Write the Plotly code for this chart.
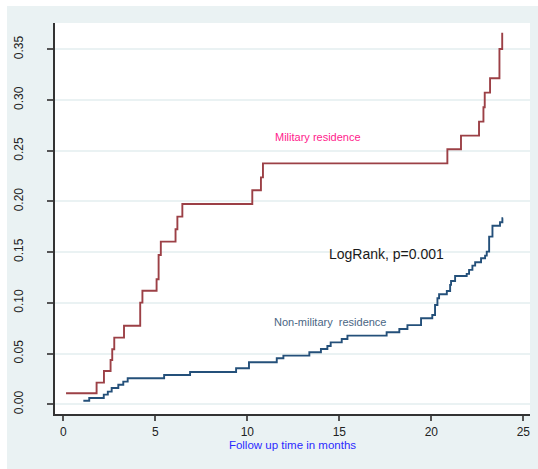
import plotly.graph_objects as go

# Military residence (cumulative incidence, step function)
mil_t = [0.15, 1.81, 2.21, 2.57, 2.66, 2.77, 3.30, 4.18, 4.30, 5.07, 5.18, 5.30,
         6.10, 6.20, 6.47, 10.27, 10.74, 10.85, 20.87, 21.61, 22.59, 22.83, 22.90,
         23.19, 23.70, 23.85]
mil_y = [0.0108, 0.0213, 0.0328, 0.0437, 0.0542, 0.0657, 0.0775, 0.1002, 0.1120,
         0.1233, 0.1472, 0.1604, 0.1726, 0.1850, 0.1975, 0.2110, 0.2238, 0.2376,
         0.2515, 0.2649, 0.2787, 0.2929, 0.3073, 0.3215, 0.3504, 0.3665]

# Non-military residence
non_t = [1.09, 1.41, 2.20, 2.42, 2.63, 2.99, 3.26, 3.50, 5.48, 6.89, 9.39, 10.09,
         11.60, 11.96, 13.37, 14.00, 14.35, 14.53, 15.13, 15.44, 17.57, 18.26, 18.70,
         19.44, 20.05, 20.20, 20.33, 20.42, 20.84, 21.02, 21.07, 21.29, 21.92, 22.05,
         22.23, 22.38, 22.70, 22.92, 23.01, 23.14, 23.32, 23.73, 23.86, 23.90]
non_y = [0.0034, 0.0062, 0.0095, 0.0125, 0.0160, 0.0193, 0.0223, 0.0256, 0.0288,
         0.0318, 0.0355, 0.0414, 0.0454, 0.0480, 0.0513, 0.0545, 0.0575, 0.0610,
         0.0644, 0.0677, 0.0710, 0.0743, 0.0780, 0.0848, 0.0881, 0.0979, 0.1045,
         0.1085, 0.1117, 0.1177, 0.1216, 0.1265, 0.1286, 0.1325, 0.1367, 0.1400,
         0.1440, 0.1466, 0.1505, 0.1653, 0.1761, 0.1795, 0.1834, 0.1834]

x_ticks = [0, 5, 10, 15, 20, 25]
y_ticks = [0.00, 0.05, 0.10, 0.15, 0.20, 0.25, 0.30, 0.35]

BG = "#eaf2f3"
FONT = "Liberation Sans, Arial, sans-serif"

fig = go.Figure()
fig.add_trace(go.Scatter(x=non_t, y=non_y, mode="lines", line_shape="hv",
                         line=dict(color="#24507a", width=1.9), name="Non-military residence"))
fig.add_trace(go.Scatter(x=mil_t, y=mil_y, mode="lines", line_shape="hv",
                         line=dict(color="#9c4046", width=1.9), name="Military residence"))

W, H = 538, 469
L, R, T, B = 55, 8, 23, 55
pw, ph = W - L - R, H - T - B

fig.add_shape(type="rect", xref="paper", yref="paper", layer="below",
              x0=(7 - L) / pw, x1=(W - L) / pw, y0=-B / ph, y1=(H - B - 6) / ph,
              fillcolor=BG, line_width=0)
fig.add_shape(type="rect", xref="paper", yref="paper", layer="below",
              x0=0, x1=1, y0=0, y1=1, fillcolor="white", line_width=0)

fig.add_annotation(x=13.84, y=0.2636, text="Military residence", showarrow=False,
                   font=dict(family=FONT, size=11, color="#ff1a8c"))
fig.add_annotation(x=17.55, y=0.148, text="LogRank, p=0.001", showarrow=False,
                   font=dict(family=FONT, size=14, color="#1a1a1a"))
fig.add_annotation(x=14.5, y=0.081, text="Non-military\u00a0 residence", showarrow=False,
                   font=dict(family=FONT, size=11, color="#4a6684"))

fig.update_layout(
    width=W, height=H,
    margin=dict(l=L, r=R, t=T, b=B, autoexpand=False),
    paper_bgcolor="white", plot_bgcolor="white",
    showlegend=False,
    font=dict(family=FONT, size=12, color="#222222"),
    xaxis=dict(range=[-0.45, 25.36], tickvals=x_ticks, ticks="outside", ticklen=5,
               tickcolor="#555555", tickwidth=1.5, showgrid=False, zeroline=False,
               showline=True, linecolor="#333333", linewidth=1.5,
               ticklabelstandoff=1,
               tickfont=dict(family=FONT, size=12, color="#222222"),
               title=dict(text="Follow up time in months", standoff=0,
                          font=dict(family=FONT, size=11.5, color="#2a2aff"))),
    yaxis=dict(range=[-0.0096, 0.376], tickvals=y_ticks, tickformat=".2f",
               ticks="outside", ticklen=6, tickcolor="#555555", tickwidth=1.5,
               tickangle=-90, ticklabelstandoff=19,
               showgrid=True, gridcolor=BG, gridwidth=1.5, zeroline=False,
               showline=True, linecolor="#333333", linewidth=1.5,
               tickfont=dict(family=FONT, size=12, color="#222222")),
)

fig.write_html("out.html")
